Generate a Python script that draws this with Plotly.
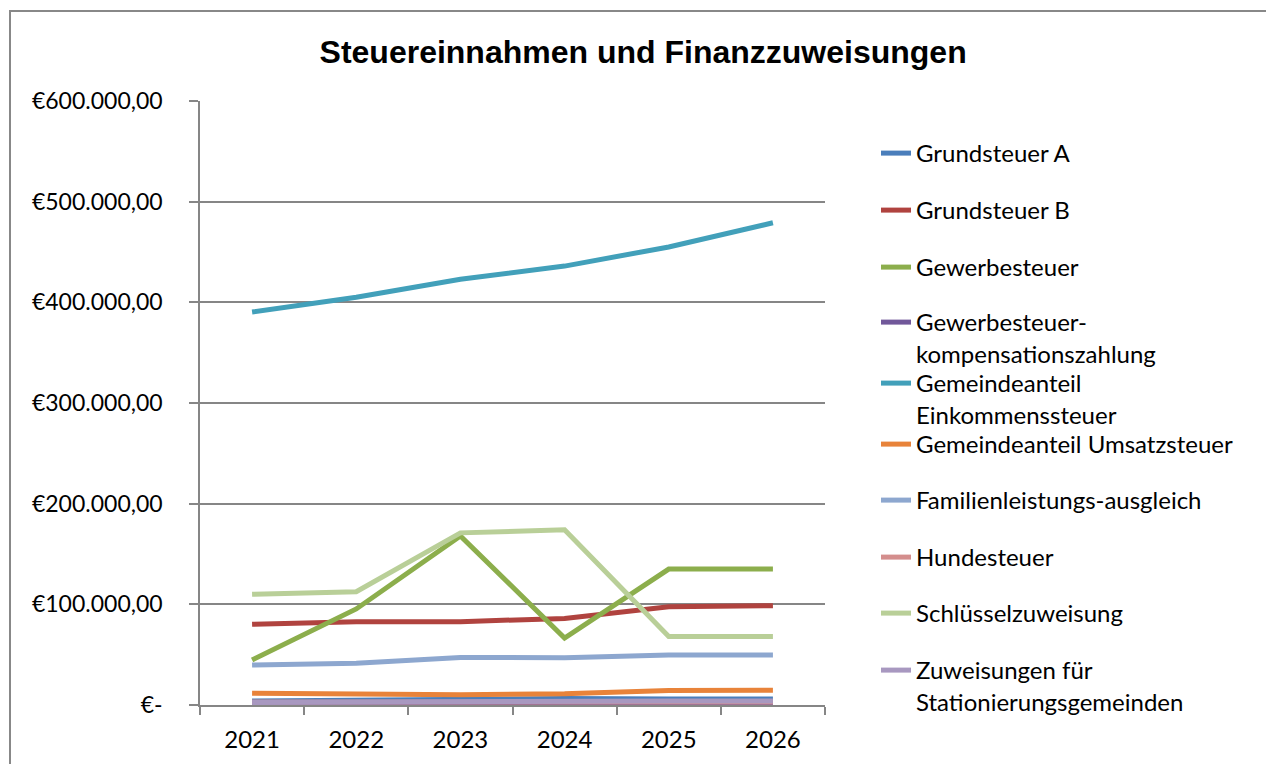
import plotly.graph_objects as go

years = ["2021", "2022", "2023", "2024", "2025", "2026"]

grundsteuer_a = [4000, 5000, 6500, 6500, 6000, 6000]
grundsteuer_b = [80200, 82800, 82800, 86000, 97700, 98700]
gewerbesteuer = [44700, 95400, 168000, 66500, 135000, 135000]
gewerbe_komp = [1000, 1000, 1500, 1500, 1500, 1500]
einkommensteuer = [390400, 405000, 423000, 436000, 455000, 479000]
umsatzsteuer = [11600, 10600, 10300, 11200, 14500, 14600]
familienleistung = [39700, 41400, 47300, 47000, 49600, 49600]
hundesteuer = [3000, 3000, 3000, 3000, 3000, 3000]
schluessel = [110000, 112500, 171000, 174000, 68000, 68000]
stationierung = [2500, 3000, 4000, 4000, 4000, 4000]

series_names = [
    "Grundsteuer A",
    "Grundsteuer B",
    "Gewerbesteuer",
    "Gewerbesteuer-<br>kompensationszahlung",
    "Gemeindeanteil<br>Einkommenssteuer",
    "Gemeindeanteil Umsatzsteuer",
    "Familienleistungs-ausgleich",
    "Hundesteuer",
    "Schlüsselzuweisung",
    "Zuweisungen für<br>Stationierungsgemeinden",
]
series_values = [grundsteuer_a, grundsteuer_b, gewerbesteuer, gewerbe_komp,
                 einkommensteuer, umsatzsteuer, familienleistung, hundesteuer,
                 schluessel, stationierung]
colors = ["#4A7EBB", "#B0433F", "#8CAE4C", "#71589A", "#42A0BA",
          "#E8833A", "#8DA7CF", "#D48E8D", "#B9CF98", "#A898C0"]

y_tickvals = [0, 100000, 200000, 300000, 400000, 500000, 600000]
y_ticktext = ["€-", "€100.000,00", "€200.000,00", "€300.000,00",
              "€400.000,00", "€500.000,00", "€600.000,00"]

FONT = "Lato"
W, H = 1266, 764
ML, MR, MT, MB = 200, 441, 101, 59
PW = W - ML - MR
PH = H - MT - MB

# legend entry vertical centres (pixels), following the reference layout
legend_px = [154, 211, 268, 323, 384, 445, 501, 558, 614, 671]


def py(px):
    return (H - MB - px) / PH


fig = go.Figure()
legend_layouts = {}
for i, (name, vals, col) in enumerate(zip(series_names, series_values, colors)):
    key = "legend" if i == 0 else f"legend{i + 1}"
    fig.add_trace(go.Scatter(
        x=years, y=vals, name=name, mode="lines",
        line=dict(color=col, width=5),
        legend=key,
    ))
    legend_layouts[key] = dict(
        x=(876 - ML) / PW, xanchor="left",
        y=py(legend_px[i] - 23), yanchor="top",
        font=dict(family=FONT, size=24, color="black"),
        valign="top", bgcolor="rgba(0,0,0,0)",
    )

fig.update_layout(
    width=W, height=H,
    margin=dict(l=ML, r=MR, t=MT, b=MB),
    paper_bgcolor="white", plot_bgcolor="white",
    font=dict(family=FONT, size=23, color="black"),
    title=dict(text="<b>Steuereinnahmen und Finanzzuweisungen</b>",
               x=0.508, xanchor="center", y=1 - 52 / H, yanchor="middle",
               font=dict(family="Liberation Sans", size=32, color="black")),
    showlegend=True,
    xaxis=dict(type="category", range=[-0.5, 5.5], showgrid=False, showline=True,
               linecolor="#868686", linewidth=1.5,
               ticks="outside", ticklen=8, tickcolor="#868686", tickwidth=1.5,
               tickson="boundaries", ticklabelstandoff=12,
               tickfont=dict(family=FONT, size=24, color="black")),
    yaxis=dict(range=[0, 600000], tickvals=y_tickvals, ticktext=y_ticktext,
               showgrid=True, gridcolor="#868686", gridwidth=1.5,
               showline=True, linecolor="#868686", linewidth=1.5,
               ticks="outside", ticklen=9, tickcolor="#868686", tickwidth=1.5,
               zeroline=False, ticklabelstandoff=22,
               tickfont=dict(family=FONT, size=23, color="black")),
    shapes=[dict(type="rect", xref="paper", yref="paper",
                 x0=(10 - ML) / PW, x1=(1275 - ML) / PW,
                 y0=py(775), y1=py(11),
                 line=dict(color="#888888", width=2), fillcolor="rgba(0,0,0,0)",
                 layer="below")],
    **legend_layouts,
)

fig.write_html("out.html")
